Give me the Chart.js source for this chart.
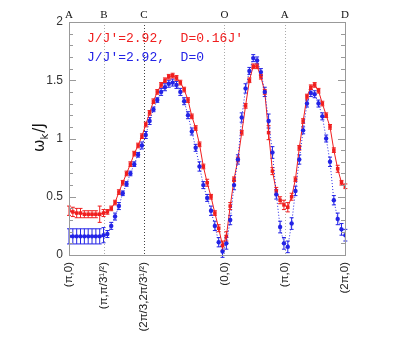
<!DOCTYPE html>
<html><head><meta charset="utf-8">
<script src="https://cdn.jsdelivr.net/npm/chart.js@4"></script>
<style>html,body{margin:0;padding:0;background:#fff}#wrap{width:400px;height:355px}</style>
</head><body><div id="wrap"><canvas id="c" width="400" height="355"></canvas></div>
<script>
// path coordinate along (π,0)->(π,π/√3)->(2π/3,2π/√3)->(0,0)->(π,0)->(2π,0)
const kx = [0,0.2,0.4,0.6,0.8,1.0,1.2,1.4,1.6,1.8,
  2.0,2.2,2.4,2.6,2.8,3.0,3.2,3.4,3.6,3.8,
  4.0,4.2,4.4,4.6,4.8,5.0,5.2,5.4,5.6,5.8,
  6.0,6.2,6.4,6.6,6.8,7.0,7.2,7.4,7.6,7.8,
  8.0,8.2,8.4,8.6,8.8,9.0,9.2,9.4,9.6,9.8,
  10.0,10.2,10.4,10.6,10.8,11.0,11.2,11.4,11.6,11.8,
  12.0,12.2,12.4,12.6,12.8,13.0,13.2,13.4,13.6,13.8,
  14.0,14.2,14.4];
const redD = [0.38,0.37,0.36,0.36,0.35,0.35,0.35,0.35,0.35,0.36,
  0.37,0.40,0.45,0.54,0.62,0.70,0.78,0.87,0.94,1.02,
  1.12,1.22,1.32,1.40,1.46,1.50,1.53,1.54,1.52,1.48,
  1.42,1.33,1.19,1.09,0.95,0.76,0.62,0.50,0.36,0.23,
  0.08,0.16,0.42,0.65,0.82,1.05,1.28,1.50,1.62,1.62,
  1.53,1.40,1.05,0.72,0.55,0.47,0.43,0.41,0.50,0.65,
  0.92,1.15,1.36,1.44,1.46,1.41,1.30,1.20,1.10,0.90,
  0.74,0.62,0.59];
const redErr = [0.04,0.04,0.04,0.04,0.03,0.03,0.03,0.03,0.07,0.03,
  0.02,0.02,0.02,0.02,0.02,0.02,0.02,0.02,0.02,0.02,
  0.02,0.02,0.02,0.02,0.02,0.02,0.02,0.02,0.02,0.02,
  0.02,0.02,0.02,0.02,0.02,0.02,0.03,0.02,0.02,0.03,
  0.04,0.04,0.03,0.02,0.02,0.02,0.02,0.02,0.02,0.02,
  0.02,0.02,0.06,0.03,0.03,0.03,0.04,0.04,0.03,0.02,
  0.02,0.02,0.02,0.02,0.02,0.02,0.02,0.02,0.02,0.02,
  0.03,0.02,0.02];
const blueD = [0.16,0.16,0.16,0.16,0.16,0.16,0.16,0.16,0.16,0.17,
  0.18,0.25,0.33,0.42,0.53,0.61,0.70,0.78,0.86,0.94,
  1.03,1.15,1.25,1.33,1.40,1.44,1.47,1.48,1.46,1.40,
  1.32,1.20,1.06,0.92,0.76,0.60,0.49,0.38,0.25,0.11,
  0.03,0.10,0.30,0.60,0.82,1.18,1.43,1.58,1.69,1.67,
  1.57,1.40,1.15,0.88,0.52,0.24,0.10,0.07,0.27,0.55,
  0.82,1.07,1.30,1.39,1.38,1.30,1.19,1.00,0.80,0.47,
  0.31,0.22,0.17];
const blueErr = [0.065,0.065,0.065,0.065,0.065,0.065,0.065,0.065,0.065,0.065,
  0.03,0.03,0.03,0.03,0.02,0.02,0.02,0.02,0.02,0.03,
  0.03,0.03,0.02,0.02,0.03,0.03,0.03,0.03,0.03,0.03,
  0.03,0.03,0.03,0.03,0.04,0.03,0.03,0.04,0.04,0.04,
  0.05,0.05,0.04,0.04,0.04,0.04,0.04,0.03,0.03,0.03,
  0.03,0.04,0.06,0.05,0.04,0.05,0.05,0.05,0.05,0.04,
  0.04,0.03,0.03,0.03,0.03,0.03,0.03,0.03,0.04,0.04,
  0.05,0.05,0.05];
const symPos = [0, 1.814, 3.908, 8.097, 11.239, 14.381];
const symTop = ['A','B','C','O','A','D'];
const symBottom = ['(\u03c0,0)','(\u03c0,\u03c0/3\u00b9/\u00b2)','(2\u03c0/3,2\u03c0/3\u00b9/\u00b2)','(0,0)','(\u03c0,0)','(2\u03c0,0)'];
const yTicks = [0,0.5,1,1.5,2];
const yTickLabels = ['0','0.5','1','1.5','2'];
const legendTexts = ["J/J'=2.92,  D=0.16J'", "J/J'=2.92,  D=0"];

const RED = '#f01e1e', BLUE = '#2323e6';
const redPts = kx.map((x,i)=>({x:x,y:redD[i]}));
const bluePts = kx.map((x,i)=>({x:x,y:blueD[i]}));
const errs = [blueErr, redErr];

const deco = {
  id:'deco',
  beforeDatasetsDraw(chart){
    const ctx = chart.ctx, xs = chart.scales.x, ys = chart.scales.y, a = chart.chartArea;
    ctx.save();
    ctx.lineWidth = 1;
    ctx.setLineDash([1,2]);
    for (let i=1;i<symPos.length-1;i++){
      const px = Math.round(xs.getPixelForValue(symPos[i]))+0.5;
      ctx.strokeStyle = (i===2)? '#444' : '#aaa';
      ctx.beginPath(); ctx.moveTo(px,a.top); ctx.lineTo(px,a.bottom); ctx.stroke();
    }
    ctx.setLineDash([]);
    chart.data.datasets.forEach((ds,di)=>{
      const e = errs[di];
      ctx.strokeStyle = ds.borderColor; ctx.lineWidth = 1;
      ds.data.forEach((p,i)=>{
        const px = xs.getPixelForValue(p.x);
        const y1 = ys.getPixelForValue(p.y - e[i]);
        const y2 = ys.getPixelForValue(p.y + e[i]);
        ctx.beginPath();
        ctx.moveTo(px,y1); ctx.lineTo(px,y2);
        ctx.moveTo(px-2,y1); ctx.lineTo(px+2,y1);
        ctx.moveTo(px-2,y2); ctx.lineTo(px+2,y2);
        ctx.stroke();
      });
    });
    ctx.restore();
  },
  afterDraw(chart){
    const ctx = chart.ctx, xs = chart.scales.x, ys = chart.scales.y, a = chart.chartArea;
    ctx.save();
    ctx.strokeStyle = '#999'; ctx.lineWidth = 1;
    ctx.strokeRect(Math.round(a.left)+0.5, Math.round(a.top)+0.5, Math.round(a.right-a.left), Math.round(a.bottom-a.top));
    for (let v=0; v<=20; v++){
      const val = v/10;
      const py = Math.round(ys.getPixelForValue(val))+0.5;
      const len = (v%5===0)? 7 : 4;
      ctx.beginPath();
      ctx.moveTo(a.left, py); ctx.lineTo(a.left+len, py);
      ctx.moveTo(a.right, py); ctx.lineTo(a.right-len, py);
      ctx.stroke();
    }
    ctx.fillStyle = '#333'; ctx.font = '12px "Liberation Sans"';
    ctx.textAlign = 'right'; ctx.textBaseline = 'middle';
    yTicks.forEach((v,i)=>{ ctx.fillText(yTickLabels[i], a.left-6, ys.getPixelForValue(v)); });
    ctx.fillStyle = '#111'; ctx.font = '11px "Liberation Serif"';
    ctx.textAlign = 'center'; ctx.textBaseline = 'alphabetic';
    symPos.forEach((k,i)=>{ ctx.fillText(symTop[i], xs.getPixelForValue(k), a.top-4); });
    ctx.fillStyle = '#222'; ctx.font = '11.5px "Liberation Sans"';
    symPos.forEach((k,i)=>{
      ctx.save();
      ctx.translate(xs.getPixelForValue(k), a.bottom+7);
      ctx.rotate(-Math.PI/2);
      ctx.textAlign = 'right'; ctx.textBaseline = 'middle';
      ctx.fillText(symBottom[i], 0, 0);
      ctx.restore();
    });
    ctx.font = '13px "Liberation Mono"'; ctx.textAlign = 'left'; ctx.textBaseline = 'middle';
    ctx.fillStyle = RED; ctx.fillText(legendTexts[0], 87, 39);
    ctx.fillStyle = BLUE; ctx.fillText(legendTexts[1], 87, 58);
    ctx.save();
    ctx.translate(40, 152);
    ctx.rotate(-Math.PI/2);
    ctx.fillStyle = '#111'; ctx.textAlign = 'left'; ctx.textBaseline = 'middle';
    ctx.font = '15px "DejaVu Sans"';
    ctx.fillText('\u03c9', 0, 0);
    let w = ctx.measureText('\u03c9').width;
    ctx.font = '10px "DejaVu Sans"';
    ctx.fillText('k', w, 5);
    w += ctx.measureText('k').width + 1;
    ctx.font = '15px "DejaVu Sans"';
    ctx.fillText('/J', w, 0);
    ctx.restore();
    ctx.restore();
  }
};

new Chart(document.getElementById('c'), {
  type:'scatter',
  data:{ datasets:[
    { label:legendTexts[1], data:bluePts, showLine:true, borderColor:BLUE, backgroundColor:BLUE,
      borderWidth:1, borderDash:[1,2], pointStyle:'circle', pointRadius:2.2, pointBorderWidth:0, tension:0 },
    { label:legendTexts[0], data:redPts, showLine:true, borderColor:RED, backgroundColor:RED,
      borderWidth:1, pointStyle:'rect', pointRadius:2.5, pointBorderWidth:0, tension:0 }
  ]},
  options:{
    responsive:false, animation:false, devicePixelRatio:1,
    layout:{ padding:{ left:69, right:55, top:22, bottom:100 } },
    plugins:{ legend:{display:false}, tooltip:{enabled:false} },
    scales:{
      x:{ type:'linear', min:0, max:14.381, display:false },
      y:{ type:'linear', min:0, max:2, display:false }
    }
  },
  plugins:[deco]
});
</script></body></html>
